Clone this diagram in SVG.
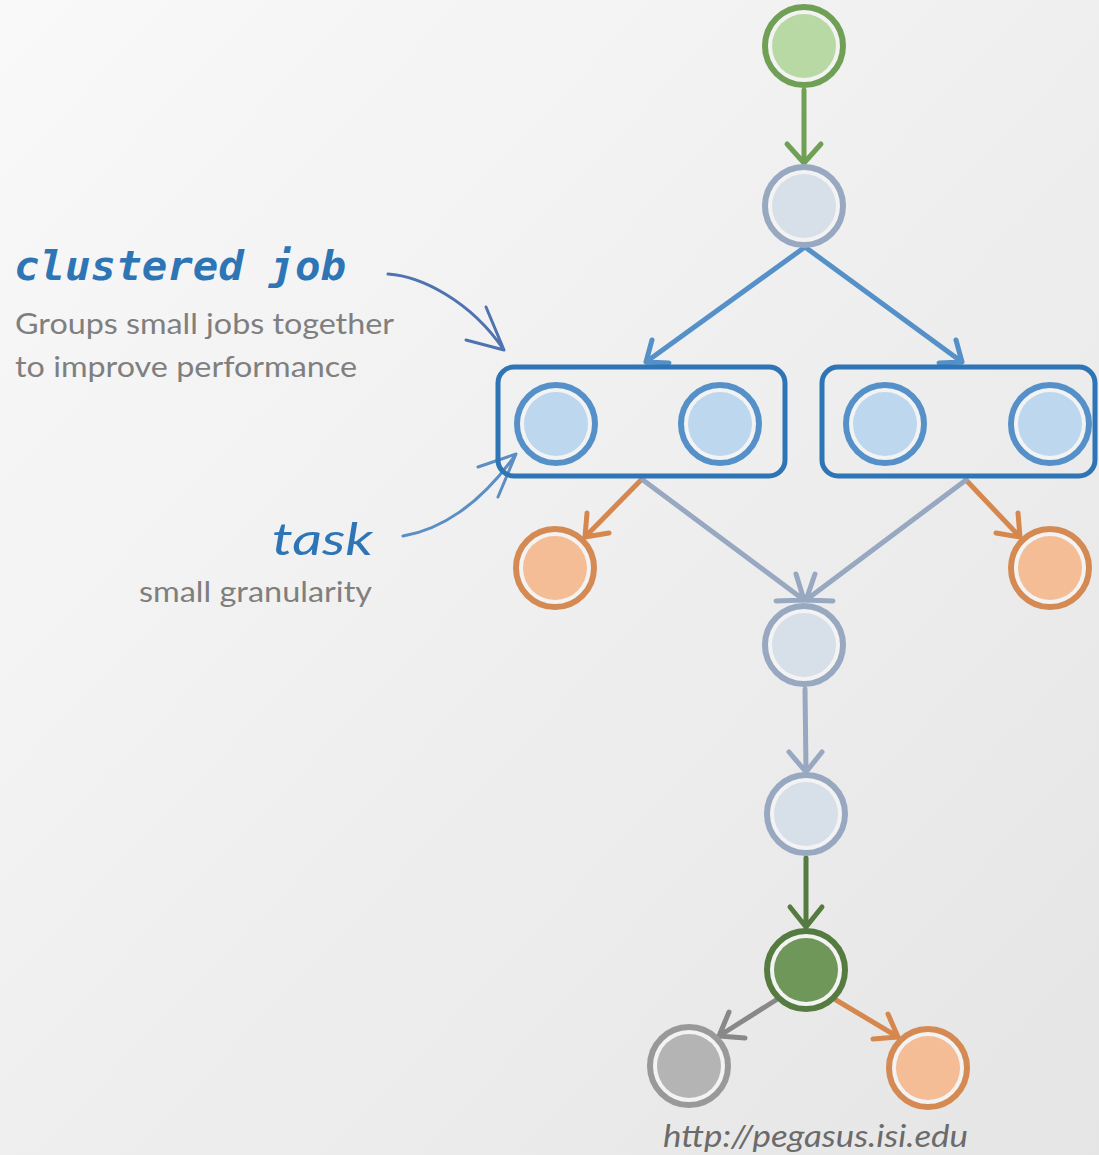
<svg xmlns="http://www.w3.org/2000/svg" width="1099" height="1155" viewBox="0 0 1099 1155">
<defs>
<linearGradient id="bg" x1="0" y1="0" x2="1" y2="1">
<stop offset="0" stop-color="#f9f9f9"/>
<stop offset="1" stop-color="#e5e5e5"/>
</linearGradient>
</defs>
<style>
.ring{stroke-width:6;fill:#f3f3f3}
.g1 .ring{stroke:#70a055}.g1 .core{fill:#b9d9a4}
.gb .ring{stroke:#97a8c0}.gb .core{fill:#d7dfe9}
.bl .ring{stroke:#5591c8}.bl .core{fill:#bdd7ee}
.or .ring{stroke:#d48a52}.or .core{fill:#f4bd96}
.dg .ring{stroke:#567b41}.dg .core{fill:#70975a}
.gr .ring{stroke:#999999}.gr .core{fill:#b4b4b4}
.box{fill:none;stroke:#2e75b6;stroke-width:5}
.c{fill:none;stroke-width:5;stroke-linecap:round;stroke-linejoin:round}
.cg{stroke:#70a055}.cb{stroke:#5591c8}.co{stroke:#d6874e}.cgb{stroke:#97a8c0}.cdg{stroke:#567b41}.cgr{stroke:#888888}
.ann{fill:none;stroke-width:3;stroke-linecap:round;stroke-linejoin:round}
.a1{stroke:#4f72b0}.a2{stroke:#5b8fc4}
.desc{font-family:Lato,"Open Sans",sans-serif;font-size:29px;fill:#7f7f7f}
</style>
<rect width="1099" height="1155" fill="url(#bg)"/>
<g id="connectors">
<path class="c cg" d="M804 90 L804 161 M787 144 L804 163 L821 144"/>
<path class="c cb" d="M805 247 L646 362 M652 340 L646 362 L669 363"/>
<path class="c cb" d="M805 247 L962 362 M956 340 L962 362 L939 363"/>
<path class="c co" d="M641 480 L585 537 M587 513 L585 537 L609 533"/>
<path class="c co" d="M966 480 L1020 537 M1018 513 L1020 537 L996 533"/>
<path class="c cgb" d="M643 480 L804 600 M796 574 L804 600 L776 601"/>
<path class="c cgb" d="M966 480 L806 600 M815 574 L806 600 L833 601"/>
<path class="c cgb" d="M805 689 L806 770 M789 752 L806 772 L822 752"/>
<path class="c cdg" d="M806 858 L806 926 M790 907 L806 927 L822 907"/>
<path class="c cgr" d="M776 1000 L719 1036 M729 1012 L719 1036 L745 1038"/>
<path class="c co" d="M836 1000 L898 1037 M888 1014 L898 1037 L873 1039"/>
<path class="ann a1" d="M388 274 C420 276 470 300 504 350 M486 307 L504 350 L466 340"/>
<path class="ann a2" d="M403 536 C440 530 480 505 516 454 M478 467 L516 454 L498 497"/>
</g>
<g id="n1" class="g1"><circle class="ring" cx="804" cy="46" r="39"/><circle class="core" cx="804" cy="46" r="32"/></g>
<g id="n2" class="gb"><circle class="ring" cx="804" cy="206" r="39"/><circle class="core" cx="804" cy="206" r="32"/></g>
<g id="cluster1"><rect class="box" x="498" y="367" width="287" height="109" rx="16"/></g>
<g id="cluster2"><rect class="box" x="822" y="367" width="273" height="109" rx="16"/></g>
<g id="t1" class="bl"><circle class="ring" cx="556" cy="424" r="39"/><circle class="core" cx="556" cy="424" r="32"/></g>
<g id="t2" class="bl"><circle class="ring" cx="720" cy="424" r="39"/><circle class="core" cx="720" cy="424" r="32"/></g>
<g id="t3" class="bl"><circle class="ring" cx="885" cy="424" r="39"/><circle class="core" cx="885" cy="424" r="32"/></g>
<g id="t4" class="bl"><circle class="ring" cx="1050" cy="424" r="39"/><circle class="core" cx="1050" cy="424" r="32"/></g>
<g id="o1" class="or"><circle class="ring" cx="555" cy="568" r="39"/><circle class="core" cx="555" cy="568" r="32"/></g>
<g id="o2" class="or"><circle class="ring" cx="1050" cy="568" r="39"/><circle class="core" cx="1050" cy="568" r="32"/></g>
<g id="n5" class="gb"><circle class="ring" cx="804" cy="645" r="39"/><circle class="core" cx="804" cy="645" r="32"/></g>
<g id="n6" class="gb"><circle class="ring" cx="806" cy="814" r="39"/><circle class="core" cx="806" cy="814" r="32"/></g>
<g id="n7" class="dg"><circle class="ring" cx="806" cy="970" r="39"/><circle class="core" cx="806" cy="970" r="32"/></g>
<g id="n8" class="gr"><circle class="ring" cx="689" cy="1066" r="39"/><circle class="core" cx="689" cy="1066" r="32"/></g>
<g id="n9" class="or"><circle class="ring" cx="928" cy="1068" r="39"/><circle class="core" cx="928" cy="1068" r="32"/></g>
<g id="labels">
<text x="14" y="280" font-family="'DejaVu Sans Mono',monospace" font-weight="bold" font-style="italic" font-size="41" fill="#2e75b6" textLength="332" lengthAdjust="spacingAndGlyphs">clustered job</text>
<text class="desc" x="15" y="334" textLength="379" lengthAdjust="spacingAndGlyphs">Groups small jobs together</text>
<text class="desc" x="15" y="377" textLength="342" lengthAdjust="spacingAndGlyphs">to improve performance</text>
<text x="272" y="555" font-family="Lato,'Open Sans',sans-serif" font-style="italic" font-size="44" fill="#2e75b6" textLength="101" lengthAdjust="spacingAndGlyphs">task</text>
<text class="desc" x="139" y="602" textLength="233" lengthAdjust="spacingAndGlyphs">small granularity</text>
<text x="663" y="1147" font-family="Lato,'Open Sans',sans-serif" font-style="italic" font-size="30" fill="#6b6b6b" textLength="305" lengthAdjust="spacingAndGlyphs">http://pegasus.isi.edu</text>
</g>
</svg>
